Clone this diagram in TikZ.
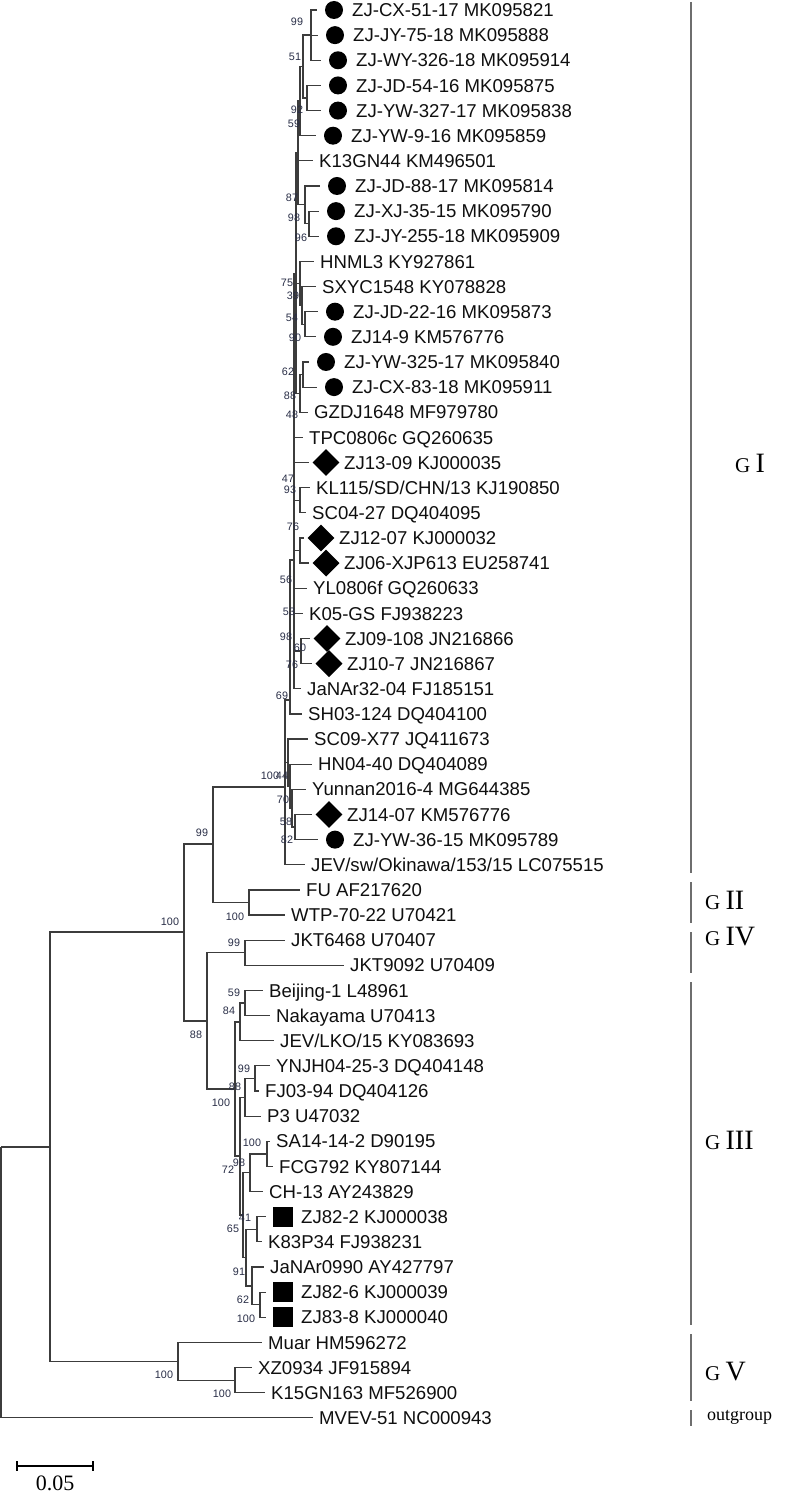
\documentclass[tikz,border=0pt]{standalone}
\usepackage{fontspec}
\setmainfont{Liberation Serif}
\newfontfamily\arialfont{Liberation Sans}
\usetikzlibrary{shapes.geometric}
\definecolor{BranchGray}{RGB}{60,60,60}
\definecolor{BarGray}{RGB}{110,110,110}
\definecolor{LeafInk}{RGB}{15,15,15}
\definecolor{BootInk}{RGB}{40,45,70}
\newcommand\gnum[1]{{\fontsize{28}{30}\selectfont #1}}
\tikzset{
  br/.style={draw=BranchGray,line width=1.2pt},
  leaf/.style={anchor=west,inner sep=0pt,text=LeafInk,font=\arialfont\fontsize{18.6}{20}\selectfont,text height=13.3pt,text depth=0pt},
  boot/.style={inner sep=0pt,text=BootInk,font=\arialfont\fontsize{10.8}{12}\selectfont},
  mkdot/.style={circle,fill=black,minimum size=18pt,inner sep=0pt},
  mkdia/.style={diamond,fill=black,minimum size=27pt,inner sep=0pt},
  mksq/.style={rectangle,fill=black,minimum size=20pt,inner sep=0pt},
  clade/.style={draw=BarGray,line width=1.1pt},
  gname/.style={anchor=west,inner sep=0pt,font=\fontsize{21}{23}\selectfont},
  sbar/.style={draw=black,line width=1.5pt}
}
\begin{document}
\begin{tikzpicture}[x=1pt,y=-1pt]
  \useasboundingbox (0,0) rectangle (800,1493);
  % leaves without marker
  \foreach \i/\tx/\txt in {6/313/K13GN44 KM496501, 10/314/HNML3 KY927861, 11/316/SXYC1548 KY078828,
      16/308/GZDJ1648 MF979780, 17/303/TPC0806c GQ260635, 19/310/{KL115/SD/CHN/13 KJ190850},
      20/306/SC04-27 DQ404095, 23/307/YL0806f GQ260633, 24/303/K05-GS FJ938223,
      27/301/JaNAr32-04 FJ185151, 28/302/SH03-124 DQ404100, 29/308/SC09-X77 JQ411673,
      30/312/HN04-40 DQ404089, 31/306/Yunnan2016-4 MG644385, 34/305/{JEV/sw/Okinawa/153/15 LC075515},
      35/300/FU AF217620, 36/285/WTP-70-22 U70421, 37/285/JKT6468 U70407, 38/344/JKT9092 U70409,
      39/263/Beijing-1 L48961, 40/270/Nakayama U70413, 41/274/{JEV/LKO/15 KY083693},
      42/270/YNJH04-25-3 DQ404148, 43/259/FJ03-94 DQ404126, 44/261/P3 U47032,
      45/270/SA14-14-2 D90195, 46/273/FCG792 KY807144, 47/263/CH-13 AY243829,
      49/262/K83P34 FJ938231, 50/264/JaNAr0990 AY427797, 53/262/Muar HM596272,
      54/252/XZ0934 JF915894, 55/265/K15GN163 MF526900, 56/313/MVEV-51 NC000943}{
    \pgfmathsetmacro\ly{10+25.14*\i}
    \coordinate (t\i) at (\tx,\ly);
    \node[leaf] (l\i) at (\tx+6,\ly) {\txt};
  }
  % leaves with marker
  \foreach \i/\tx/\mk/\txt in {0/317/mkdot/ZJ-CX-51-17 MK095821, 1/318/mkdot/ZJ-JY-75-18 MK095888,
      2/321/mkdot/ZJ-WY-326-18 MK095914, 3/321/mkdot/ZJ-JD-54-16 MK095875,
      4/321/mkdot/ZJ-YW-327-17 MK095838, 5/316/mkdot/ZJ-YW-9-16 MK095859,
      7/320/mkdot/ZJ-JD-88-17 MK095814, 8/319/mkdot/ZJ-XJ-35-15 MK095790,
      9/319/mkdot/ZJ-JY-255-18 MK095909, 12/318/mkdot/ZJ-JD-22-16 MK095873,
      13/316/mkdot/ZJ14-9 KM576776, 14/309/mkdot/ZJ-YW-325-17 MK095840,
      15/317/mkdot/ZJ-CX-83-18 MK095911, 18/309/mkdia/ZJ13-09 KJ000035,
      21/304/mkdia/ZJ12-07 KJ000032, 22/309/mkdia/ZJ06-XJP613 EU258741,
      25/310/mkdia/ZJ09-108 JN216866, 26/312/mkdia/ZJ10-7 JN216867,
      32/312/mkdia/ZJ14-07 KM576776, 33/318/mkdot/ZJ-YW-36-15 MK095789,
      48/266/mksq/ZJ82-2 KJ000038, 51/266/mksq/ZJ82-6 KJ000039, 52/266/mksq/ZJ83-8 KJ000040}{
    \pgfmathsetmacro\ly{10+25.14*\i}
    \coordinate (t\i) at (\tx,\ly);
    \node[\mk] (m\i) at (\tx+17,\ly) {};
    \node[leaf] (l\i) at (\tx+35,\ly) {\txt};
  }
  % internal nodes
  \foreach \n/\x/\y in {root/1/1147, A/50/1147, B/184/932, C/213/844, g2/249/902.5, D/207/1021,
      g4/245/952.8, g3/235/1089, nb/240/1022, nbn/245/1003, nq/240/1156, ny/245/1097.3,
      nyf/255/1078.5, nr/243/1215, nsc/250/1172.7, nsf/267/1153.9, n65/246/1257.6,
      n41/257/1229.3, n91/252/1286, n62/260/1304.7, g5/178/1361.3, nxk/235/1380.2,
      r1/285/787, nsc9/288/762.5, n44/290/786, n70/292/808, n58/295/827, n69/290/700,
      ng3/294/560, ng2/296/273.2, ng1/298/152.9, n59/300/101.1, n51/303/66.6, n99/311/35.1,
      n92/307/98, n87/305/204.8, n98/309/223.7, n75/300/283.4, n39/302/305.4, n54/305/324.3,
      n88/300/393.4, n62a/303/374.5, n93/300/500.2, n76/300/550.5, n60/301/651}
    \coordinate (\n) at (\x,\y);
  % branches
  \foreach \p/\c in {root/A, root/t56, A/B, A/g5, B/C, B/D, C/r1, C/g2, g2/t35, g2/t36,
      D/g4, D/g3, g4/t37, g4/t38, g3/nb, g3/nq, nb/nbn, nb/t41, nbn/t39, nbn/t40,
      nq/ny, nq/nr, ny/nyf, ny/t44, nyf/t42, nyf/t43, nr/nsc, nr/n65, nsc/nsf, nsc/t47,
      nsf/t45, nsf/t46, n65/n41, n65/n91, n41/t48, n41/t49, n91/t50, n91/n62, n62/t51, n62/t52,
      g5/t53, g5/nxk, nxk/t54, nxk/t55,
      r1/n69, r1/nsc9, r1/t34, nsc9/t29, nsc9/n44, n44/t30, n44/n70, n70/t31, n70/n58,
      n58/t32, n58/t33, n69/ng3, n69/t28,
      ng3/ng2, ng3/t17, ng3/t18, ng3/n93, ng3/n76, ng3/t23, ng3/t24, ng3/n60, ng3/t27,
      ng2/ng1, ng2/n75, ng2/n88, ng1/n59, ng1/t6, ng1/n87, n59/n51, n59/t5, n51/n99, n51/n92,
      n99/t0, n99/t1, n99/t2, n92/t3, n92/t4, n87/t7, n87/n98, n98/t8, n98/t9,
      n75/t10, n75/n39, n39/t11, n39/n54, n54/t12, n54/t13, n88/n62a, n88/t16,
      n62a/t14, n62a/t15, n93/t19, n93/t20, n76/t21, n76/t22, n60/t25, n60/t26}
    \draw[br] (\p) |- (\c);
  % bootstrap values
  \foreach \x/\y/\v [count=\k] in {297/22/99, 295/57/51, 297/110/92, 294/124/59, 292/198/87,
      294/218/98, 301/238/96, 287/283/75, 293/296/39, 292/318/54, 295/338/90, 288/372/62,
      290/396/88, 292/415/48, 288/479/47, 290/490/93, 293/527/76, 286/580/56, 289/612/53,
      286/637/98, 300/648/60, 292/665/76, 282/696/69, 270/776/100, 282/776/44, 283/800/70,
      286/822/58, 287/840/82, 202/833/99, 235/917/100, 170/922/100, 234/943/99, 196/1035/88,
      234/993/59, 229/1011/84, 244/1069/99, 235/1087/88, 221/1103/100, 252/1143/100,
      239/1163/98, 228/1170/72, 245/1218/41, 233/1229/65, 239/1272/91, 243/1300/62,
      246/1319/100, 164/1375/100, 222/1394/100}
    \node[boot] (b\k) at (\x,\y) {\v};
  % genotype bars
  \foreach \a/\b in {2/873, 882/923, 932/973, 982/1325, 1334/1401, 1410/1426}
    \draw[clade] (691,\a) -- (691,\b);
  \node[gname] (gI) at (735,463) {G \gnum{I}};
  \node[gname] (gII) at (705,900) {G \gnum{II}};
  \node[gname] (gIV) at (705,937) {G \gnum{IV}};
  \node[gname] (gIII) at (705,1140) {G \gnum{III}};
  \node[gname] (gV) at (705,1372) {G \gnum{V}};
  \node[gname,font=\fontsize{18}{20}\selectfont] (gout) at (707,1417) {outgroup};
  % scale bar
  \coordinate (sb1) at (17,1466);
  \coordinate (sb2) at (93,1466);
  \draw[sbar] (sb1) -- (sb2);
  \draw[sbar] ([yshift=5pt]sb1) -- ([yshift=-5pt]sb1);
  \draw[sbar] ([yshift=5pt]sb2) -- ([yshift=-5pt]sb2);
  \node[font=\fontsize{22}{24}\selectfont,inner sep=0pt] (sbl) at (55,1483) {0.05};
\end{tikzpicture}
\end{document}
